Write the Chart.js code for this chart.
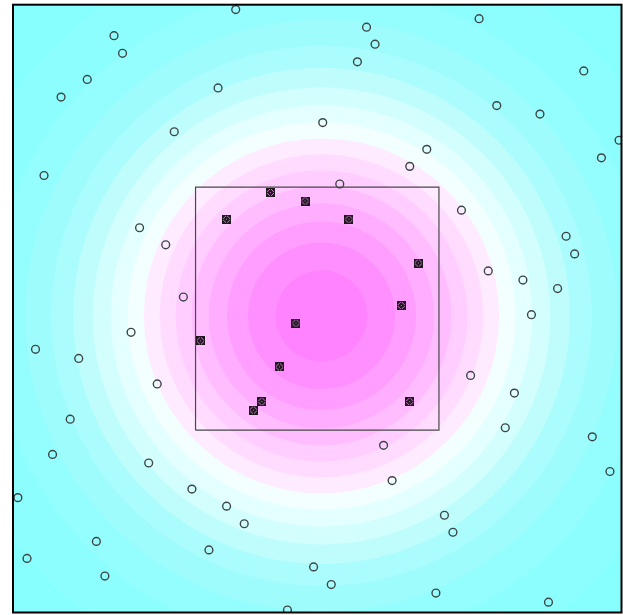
<!DOCTYPE html>
<html>
<head>
<meta charset="utf-8">
<script src="https://cdn.jsdelivr.net/npm/chart.js@4/dist/chart.umd.min.js"></script>
<style>
  html, body { margin: 0; padding: 0; background: #ffffff; }
  canvas { display: block; }
</style>
</head>
<body>
<canvas id="chart" width="623" height="615"></canvas>
<script>
// Sample points lying outside the inner box
const outerX = [0.366,0.166,0.180,0.122,0.079,0.337,0.265,0.051,0.208,0.251,0.280,
  0.766,0.581,0.595,0.566,0.938,0.795,0.866,0.996,0.967,0.509,0.680,0.652,0.537,0.737,
  0.909,0.923,0.781,0.838,0.895,0.194,0.037,0.108,0.237,0.094,0.065,0.223,0.008,0.294,
  0.351,0.380,0.137,0.322,0.023,0.151,0.494,0.451,0.852,0.752,0.824,0.809,0.952,0.981,
  0.609,0.623,0.709,0.723,0.523,0.695,0.880];
const outerY = [0.992,0.949,0.920,0.877,0.848,0.863,0.791,0.719,0.633,0.605,0.519,
  0.977,0.963,0.935,0.906,0.891,0.834,0.820,0.777,0.748,0.806,0.762,0.734,0.705,0.662,
  0.619,0.590,0.562,0.547,0.533,0.461,0.433,0.418,0.376,0.318,0.260,0.246,0.189,0.203,
  0.175,0.146,0.117,0.103,0.089,0.060,0.075,0.004,0.490,0.390,0.361,0.304,0.289,0.232,
  0.275,0.217,0.160,0.132,0.046,0.032,0.017];

// Sample points lying inside the inner box
const innerX = [0.351,0.423,0.480,0.552,0.666,0.638,0.465,0.308,0.438,0.409,0.395,0.652];
const innerY = [0.647,0.691,0.677,0.647,0.575,0.505,0.476,0.447,0.404,0.347,0.333,0.347];

// Inner box corners
const boxX = [0.3, 0.7, 0.7, 0.3, 0.3];
const boxY = [0.3, 0.3, 0.7, 0.7, 0.3];

// Background field: a radial bump, filled between these contour levels
const fieldCenter = [0.507, 0.488];
const fieldSigma = 0.263;
const contourLevels = [0.06,0.12,0.18,0.24,0.30,0.36,0.42,0.48,0.54,0.60,0.66,0.72,0.78,0.84,0.90,0.96];
const bandColors = ['#88ffff','#8dfefe','#94fdfd','#9efcfc','#abfcfc','#bffdfd','#d3fefe','#e4ffff','#f3ffff',
  '#ffebff','#ffdcff','#ffcdff','#ffbdff','#ffadff','#ff9eff','#ff8fff','#ff82ff'];

const toPoints = (xs, ys) => xs.map((x, i) => ({ x, y: ys[i] }));

// Square marker with a light pattern inside
function makeSquareMarker() {
  const c = document.createElement('canvas');
  c.width = 9; c.height = 9;
  const g = c.getContext('2d');
  g.fillStyle = '#1c181c';
  g.fillRect(0, 0, 9, 9);
  g.fillStyle = 'rgba(255,150,255,0.8)';
  const dots = [[3,1],[5,1],[1,3],[7,3],[1,5],[7,5],[3,7],[5,7],[2,2],[6,2],[2,6],[6,6],[4,4]];
  dots.forEach(([x, y]) => g.fillRect(x, y, 1, 1));
  return c;
}

const contourPlugin = {
  id: 'contourFill',
  beforeDatasetsDraw(chart) {
    const { ctx, chartArea: a, scales: { x, y } } = chart;
    ctx.save();
    ctx.beginPath();
    ctx.rect(a.left, a.top, a.right - a.left, a.bottom - a.top);
    ctx.clip();
    ctx.fillStyle = bandColors[0];
    ctx.fillRect(a.left, a.top, a.right - a.left, a.bottom - a.top);
    const cx = x.getPixelForValue(fieldCenter[0]);
    const cy = y.getPixelForValue(fieldCenter[1]);
    contourLevels.forEach((lv, i) => {
      const r = fieldSigma * Math.sqrt(-2 * Math.log(lv));
      const rx = x.getPixelForValue(fieldCenter[0] + r) - cx;
      const ry = cy - y.getPixelForValue(fieldCenter[1] + r);
      ctx.beginPath();
      ctx.ellipse(cx, cy, rx, ry, 0, 0, Math.PI * 2);
      ctx.fillStyle = bandColors[i + 1];
      ctx.fill();
    });
    ctx.restore();
  },
  afterDraw(chart) {
    const { ctx, chartArea: a } = chart;
    ctx.save();
    ctx.strokeStyle = '#000000';
    ctx.lineWidth = 2;
    ctx.strokeRect(a.left, a.top, a.right - a.left, a.bottom - a.top);
    ctx.restore();
  }
};

new Chart(document.getElementById('chart'), {
  type: 'scatter',
  data: {
    datasets: [
      {
        label: 'inside',
        data: toPoints(innerX, innerY),
        pointStyle: makeSquareMarker(),
        pointRadius: 4.5,
        order: 1,
        clip: 0
      },
      {
        label: 'outside',
        data: toPoints(outerX, outerY),
        pointStyle: 'circle',
        pointRadius: 3.9,
        borderWidth: 1.4,
        borderColor: '#3c4646',
        backgroundColor: 'rgba(0,0,0,0)',
        order: 2,
        clip: 0
      },
      {
        type: 'line',
        label: 'box',
        data: toPoints(boxX, boxY),
        borderColor: '#484848',
        borderWidth: 1.2,
        pointRadius: 0,
        fill: false,
        tension: 0,
        order: 3,
        clip: 0
      }
    ]
  },
  options: {
    responsive: false,
    animation: false,
    devicePixelRatio: 1,
    layout: { autoPadding: false, padding: { left: 13, right: 1.5, top: 4.7, bottom: 2.5 } },
    plugins: { legend: { display: false }, tooltip: { enabled: false } },
    scales: {
      x: { type: 'linear', min: 0, max: 1, display: false },
      y: { type: 'linear', min: 0, max: 1, display: false }
    }
  },
  plugins: [contourPlugin]
});
</script>
</body>
</html>
